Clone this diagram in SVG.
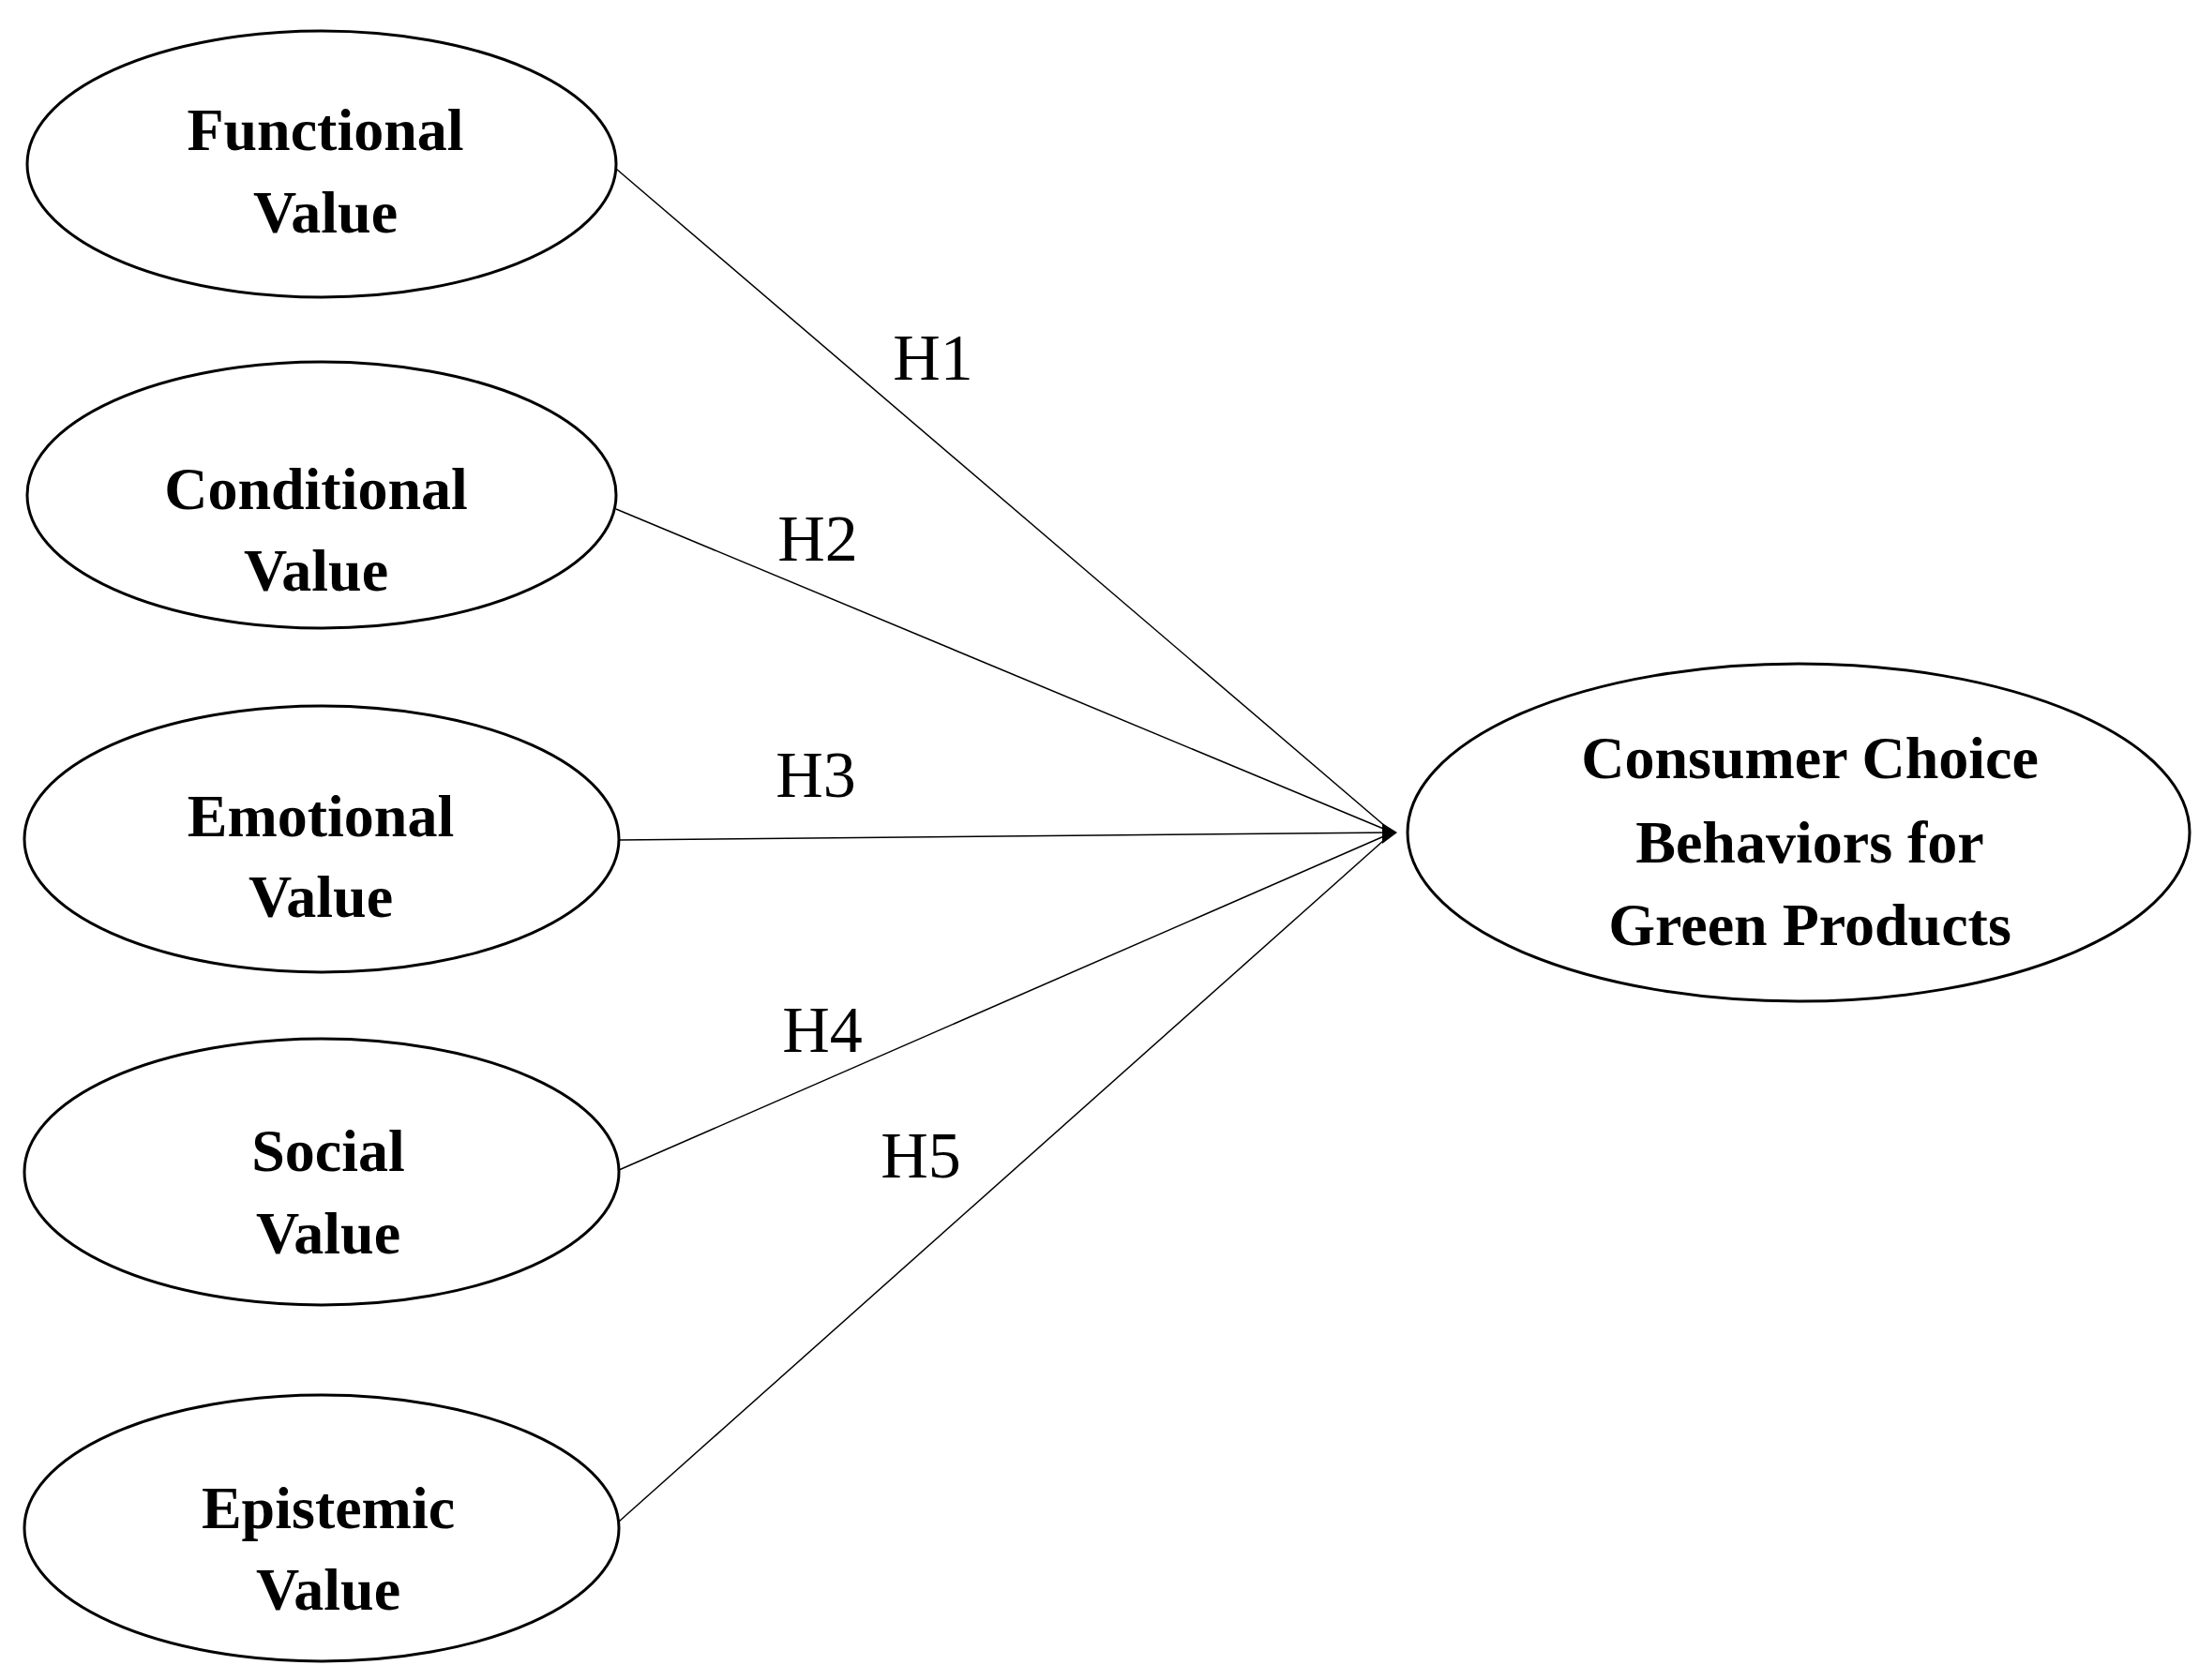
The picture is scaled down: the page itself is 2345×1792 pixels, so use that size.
<svg xmlns="http://www.w3.org/2000/svg" width="2345" height="1792" viewBox="0 0 2345 1792">
<style>
.n{fill:#fff;stroke:#000;stroke-width:3}
.t{font-family:"Liberation Serif",serif;font-weight:bold;font-size:64px;text-anchor:middle}
.h{font-family:"Liberation Serif",serif;font-size:70px;text-anchor:middle}
.c line{stroke:#000;stroke-width:1.5}
</style>
<rect width="2345" height="1792" fill="#fff"/>
<g class="c">
<line x1="657" y1="180" x2="1485" y2="888"/>
<line x1="657" y1="543" x2="1485" y2="888"/>
<line x1="660" y1="896" x2="1485" y2="888"/>
<line x1="660" y1="1248" x2="1485" y2="888"/>
<line x1="660" y1="1623" x2="1485" y2="888"/>
<path d="M1474,878 L1490,888 L1474,900 Z" fill="#000"/>
<text class="h" x="995" y="405">H1</text>
<text class="h" x="872" y="598">H2</text>
<text class="h" x="870" y="850">H3</text>
<text class="h" x="877" y="1122">H4</text>
<text class="h" x="982" y="1256">H5</text>
</g>
<g id="functional"><ellipse class="n" cx="343" cy="175" rx="314" ry="142"/><text class="t" x="347" y="160">Functional</text><text class="t" x="347" y="248">Value</text></g>
<g id="conditional"><ellipse class="n" cx="343" cy="528" rx="314" ry="142"/><text class="t" x="337" y="543">Conditional</text><text class="t" x="337" y="630">Value</text></g>
<g id="emotional"><ellipse class="n" cx="343" cy="895" rx="317" ry="142"/><text class="t" x="342" y="892">Emotional</text><text class="t" x="342" y="978">Value</text></g>
<g id="social"><ellipse class="n" cx="343" cy="1250" rx="317" ry="142"/><text class="t" x="350" y="1249">Social</text><text class="t" x="350" y="1337">Value</text></g>
<g id="epistemic"><ellipse class="n" cx="343" cy="1630" rx="317" ry="142"/><text class="t" x="350" y="1630">Epistemic</text><text class="t" x="350" y="1717">Value</text></g>
<g id="consumer"><ellipse class="n" cx="1918" cy="888" rx="417" ry="180"/><text class="t" x="1930" y="830">Consumer Choice</text><text class="t" x="1930" y="920">Behaviors for</text><text class="t" x="1930" y="1008">Green Products</text></g>
</svg>
